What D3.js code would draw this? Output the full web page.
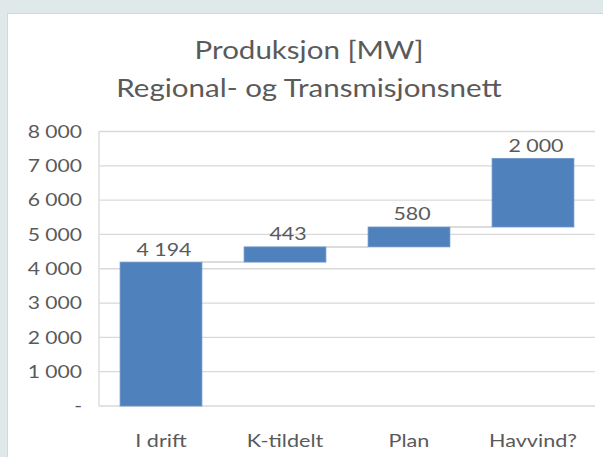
<!DOCTYPE html>
<html>
<head>
<meta charset="utf-8">
<script src="https://cdn.jsdelivr.net/npm/d3@7"></script>
<style>
  html, body { margin: 0; padding: 0; background: #dfe9ea; }
  svg { display: block; }
  text { font-family: Lato, "Open Sans", sans-serif; fill: #5a5a5a; }
</style>
</head>
<body>
<svg id="chart"></svg>
<script>
const categories = ["I drift", "K-tildelt", "Plan", "Havvind?"];
const values = [4194, 443, 580, 2000];
const yTicks = [0, 1000, 2000, 3000, 4000, 5000, 6000, 7000, 8000];
const titleLines = ["Produksjon [MW]", "Regional- og Transmisjonsnett"];

const width = 603;
const height = 457;
const stretch = 1.2; // the reference text is drawn wide

const margin = {left: 99, right: 8, top: 131.5, bottom: 51};

const svg = d3.select("#chart")
    .attr("width", width)
    .attr("height", height);

// white chart panel
svg.append("rect")
    .attr("x", 7.5)
    .attr("y", 13.5)
    .attr("width", width)
    .attr("height", height)
    .attr("fill", "#ffffff")
    .attr("stroke", "#d0d9d9")
    .attr("stroke-width", 1);

// waterfall steps
let running = 0;
const steps = values.map((v, i) => {
    const start = running;
    running += v;
    return {name: categories[i], value: v, start: start, end: running};
});

const x = d3.scaleBand()
    .domain(categories)
    .range([margin.left, width - margin.right])
    .paddingInner(0.34)
    .paddingOuter(0.17);

const y = d3.scaleLinear()
    .domain([0, 8000])
    .range([height - margin.bottom, margin.top]);

const fmt = d3.formatLocale({decimal: ",", thousands: "\u00a0", grouping: [3], currency: ["", ""]}).format(",d");

function stretchedText(parent, px, py, str, size, anchor) {
    return parent.append("text")
        .attr("transform", `translate(${px},${py}) scale(${stretch},1)`)
        .attr("text-anchor", anchor)
        .style("font-size", size + "px")
        .text(str);
}

// gridlines
svg.append("g")
    .selectAll("line")
    .data(yTicks)
    .enter()
    .append("line")
    .attr("x1", margin.left)
    .attr("x2", width - margin.right)
    .attr("y1", d => y(d))
    .attr("y2", d => y(d))
    .attr("stroke", "#d9d9d9")
    .attr("stroke-width", 1.3);

// left axis line
svg.append("line")
    .attr("x1", margin.left)
    .attr("x2", margin.left)
    .attr("y1", y(8000))
    .attr("y2", y(0))
    .attr("stroke", "#d9d9d9")
    .attr("stroke-width", 1.3);

// y tick labels
const tickG = svg.append("g");
yTicks.forEach(t => {
    stretchedText(tickG, 82, y(t) + 6.3, t === 0 ? "-" : fmt(t), 17.6, "end");
});

// connectors
svg.append("g")
    .selectAll("line")
    .data(steps.slice(0, -1))
    .enter()
    .append("line")
    .attr("x1", (d, i) => x(d.name) + x.bandwidth())
    .attr("x2", (d, i) => x(steps[i + 1].name))
    .attr("y1", d => y(d.end))
    .attr("y2", d => y(d.end))
    .attr("stroke", "#d0d0d0")
    .attr("stroke-width", 1.5);

// bars
svg.append("g")
    .selectAll("rect")
    .data(steps)
    .enter()
    .append("rect")
    .attr("x", d => x(d.name))
    .attr("width", x.bandwidth())
    .attr("y", d => y(d.end))
    .attr("height", d => y(d.start) - y(d.end))
    .attr("fill", "#4f81bd")
    .attr("stroke", "#6f96c8")
    .attr("stroke-width", 0.8);

// value labels
const valG = svg.append("g");
steps.forEach(d => {
    stretchedText(valG, x(d.name) + x.bandwidth() / 2 + 3, y(d.end) - 6.5, fmt(d.value), 17.8, "middle");
});

// category labels
const catG = svg.append("g");
categories.forEach(c => {
    stretchedText(catG, x(c) + x.bandwidth() / 2, 446.5, c, 18, "middle");
});

// title
const titleG = svg.append("g");
titleLines.forEach((t, i) => {
    stretchedText(titleG, 309, 58.5 + i * 38, t, 24.6, "middle");
});
</script>
</body>
</html>
